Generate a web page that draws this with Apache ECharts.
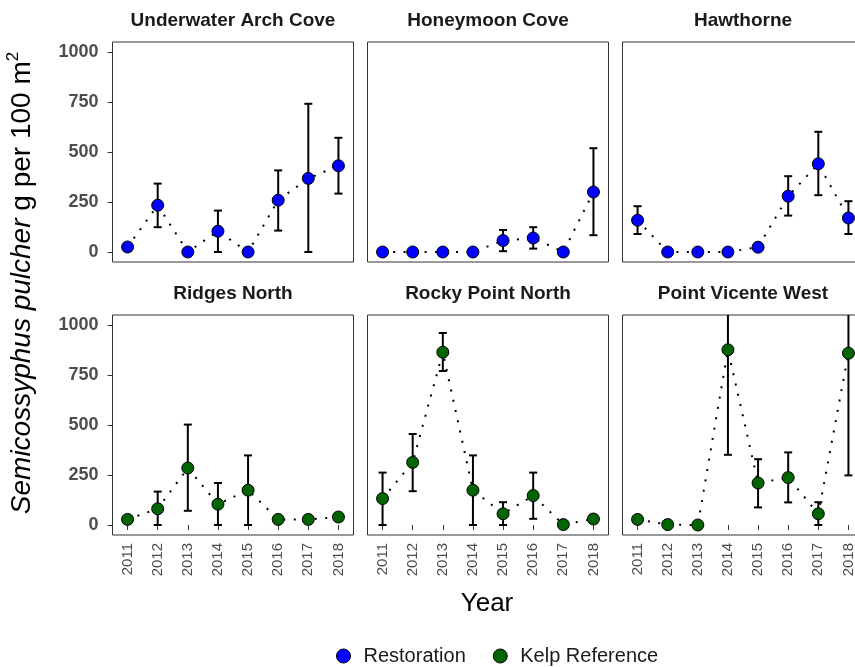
<!DOCTYPE html>
<html>
<head>
<meta charset="utf-8">
<script src="https://cdn.jsdelivr.net/npm/echarts@6/dist/echarts.min.js"></script>
<style>
  html, body { margin: 0; padding: 0; background: #ffffff; }
  #chart { width: 855px; height: 667px; }
</style>
</head>
<body>
<div id="chart"></div>
<script>
// Survey years (shared x categories)
const years = ['2011', '2012', '2013', '2014', '2015', '2016', '2017', '2018'];
const yTicks = [0, 250, 500, 750, 1000];

// Restoration sites: mean biomass and error-bar limits (g per 100 m²)
const archMean = [25, 234, 0, 104, 0, 259, 368, 431];
const archLow  = [25, 124, 0, 0, 0, 107, 0, 292];
const archHigh = [25, 342, 0, 207, 0, 408, 741, 571];

const honeyMean = [0, 0, 0, 0, 57, 70, 0, 300];
const honeyLow  = [0, 0, 0, 0, 4, 17, 0, 84];
const honeyHigh = [0, 0, 0, 0, 110, 124, 0, 519];

const hawMean = [159, 0, 0, 0, 24, 279, 441, 170];
const hawLow  = [90, 0, 0, 0, 24, 182, 284, 90];
const hawHigh = [229, 0, 0, 0, 24, 379, 601, 254];

// Kelp reference sites
const ridgesMean = [28, 81, 285, 104, 174, 28, 28, 40];
const ridgesLow  = [28, 0, 71, 0, 0, 28, 28, 40];
const ridgesHigh = [28, 167, 502, 210, 348, 28, 28, 40];

const rockyMean = [132, 313, 864, 174, 56, 147, 2, 30];
const rockyLow  = [0, 169, 770, 0, 0, 31, 2, 30];
const rockyHigh = [262, 455, 960, 348, 114, 262, 2, 30];

const vicenteMean = [28, 2, 0, 876, 210, 237, 56, 859];
const vicenteLow  = [28, 2, 0, 351, 88, 113, 0, 248];
const vicenteHigh = [28, 2, 0, 1401, 329, 363, 114, 1470];

const groupNames = ['Restoration', 'Kelp Reference'];
const groupColors = ['#0000FF', '#006400'];

const panels = [
  { title: 'Underwater Arch Cove', group: 0, mean: archMean, low: archLow, high: archHigh },
  { title: 'Honeymoon Cove', group: 0, mean: honeyMean, low: honeyLow, high: honeyHigh },
  { title: 'Hawthorne', group: 0, mean: hawMean, low: hawLow, high: hawHigh },
  { title: 'Ridges North', group: 1, mean: ridgesMean, low: ridgesLow, high: ridgesHigh },
  { title: 'Rocky Point North', group: 1, mean: rockyMean, low: rockyLow, high: rockyHigh },
  { title: 'Point Vicente West', group: 1, mean: vicenteMean, low: vicenteLow, high: vicenteHigh }
];

// Facet layout
const colLeft = [112.5, 367.5, 622.5];
const rowTop = [42, 315];
const panelW = 241;
const panelH = 220;
const FONT = '"Liberation Sans", Arial, Helvetica, sans-serif';

function renderErrorBar(params, api) {
  const x = api.value(0);
  const lo = api.value(1);
  const hi = api.value(2);
  if (hi - lo < 1) return null;
  const top = api.coord([x, hi]);
  const bot = api.coord([x, lo]);
  const hw = 4;
  const style = { stroke: '#000000', lineWidth: 2 };
  return {
    type: 'group',
    children: [
      { type: 'line', shape: { x1: top[0], y1: top[1], x2: bot[0], y2: bot[1] }, style: style },
      { type: 'line', shape: { x1: top[0] - hw, y1: top[1], x2: top[0] + hw, y2: top[1] }, style: style },
      { type: 'line', shape: { x1: bot[0] - hw, y1: bot[1], x2: bot[0] + hw, y2: bot[1] }, style: style }
    ]
  };
}

const grids = [], xAxes = [], yAxes = [], series = [], graphics = [];

panels.forEach(function (p, i) {
  const row = Math.floor(i / 3);
  const col = i % 3;
  const bottomRow = row === 1;
  const leftCol = col === 0;

  grids.push({
    left: colLeft[col], top: rowTop[row], width: panelW, height: panelH,
    outerBoundsMode: 'none', containLabel: false,
    show: true, borderColor: '#333333', borderWidth: 1, backgroundColor: 'transparent'
  });

  xAxes.push({
    type: 'category', gridIndex: i, data: years, boundaryGap: true,
    axisLine: { show: false },
    axisTick: { show: bottomRow, alignWithLabel: true, length: 5, lineStyle: { color: '#333333', width: 1 } },
    axisLabel: {
      show: bottomRow, rotate: 90, margin: 8, interval: 0,
      color: '#4D4D4D', fontSize: 15, fontFamily: FONT
    },
    splitLine: { show: false }
  });

  yAxes.push({
    type: 'value', gridIndex: i, min: -50, max: 1050,
    axisLine: { show: false },
    axisTick: { show: leftCol, length: 5, customValues: yTicks, lineStyle: { color: '#333333', width: 1 } },
    axisLabel: {
      show: leftCol, customValues: yTicks, margin: 14,
      formatter: function (v) { return String(v); },
      color: '#4D4D4D', fontSize: 18, fontWeight: 'bold', fontFamily: FONT
    },
    splitLine: { show: false }
  });

  series.push({
    type: 'line', xAxisIndex: i, yAxisIndex: i, data: p.mean,
    symbol: 'none', silent: true, z: 1,
    lineStyle: { color: '#000000', width: 2, type: [2, 8.5] }
  });

  series.push({
    type: 'custom', xAxisIndex: i, yAxisIndex: i, clip: true, z: 2, silent: true,
    renderItem: renderErrorBar,
    encode: { x: 0, y: [1, 2] },
    data: years.map(function (y, j) { return [j, p.low[j], p.high[j]]; })
  });

  series.push({
    type: 'scatter', name: groupNames[p.group], xAxisIndex: i, yAxisIndex: i,
    data: p.mean, symbol: 'circle', symbolSize: 12, z: 3,
    itemStyle: { color: groupColors[p.group], borderColor: '#000000', borderWidth: 1, opacity: 1 }
  });

  graphics.push({
    type: 'text',
    x: colLeft[col] + panelW / 2, y: rowTop[row] - 21,
    style: {
      text: p.title, fill: '#1A1A1A', fontSize: 19, fontWeight: 'bold', fontFamily: FONT,
      textAlign: 'center', textVerticalAlign: 'middle'
    }
  });
});

// Shared axis titles
graphics.push({
  type: 'text', x: 487, y: 604,
  style: {
    text: 'Year', fill: '#000000', fontSize: 26, fontFamily: FONT,
    textAlign: 'center', textVerticalAlign: 'middle'
  }
});
graphics.push({
  type: 'text', x: 22, y: 283, rotation: Math.PI / 2,
  style: {
    text: '{i|Semicossyphus pulcher}{n| g per 100 m}{s|2}',
    textAlign: 'center', textVerticalAlign: 'middle', fill: '#000000',
    rich: {
      i: { fontSize: 28, fontStyle: 'italic', fontFamily: FONT, lineHeight: 34, fill: '#000000' },
      n: { fontSize: 28, fontFamily: FONT, lineHeight: 34, fill: '#000000' },
      s: { fontSize: 17, fontFamily: FONT, verticalAlign: 'top', lineHeight: 34, fill: '#000000' }
    }
  }
});

const chart = echarts.init(document.getElementById('chart'), null, { renderer: 'canvas' });
chart.setOption({
  animation: false,
  backgroundColor: '#ffffff',
  grid: grids,
  xAxis: xAxes,
  yAxis: yAxes,
  series: series,
  graphic: graphics,
  legend: {
    data: groupNames.map(function (n, k) {
      return { name: n, itemStyle: { color: groupColors[k], borderColor: '#000000', borderWidth: 1 } };
    }),
    icon: 'circle', itemWidth: 14, itemHeight: 14, itemGap: 27,
    left: 331, top: 641,
    textStyle: { color: '#1A1A1A', fontSize: 20, fontFamily: FONT, padding: [0, 0, 0, 8] }
  }
});
</script>
</body>
</html>
